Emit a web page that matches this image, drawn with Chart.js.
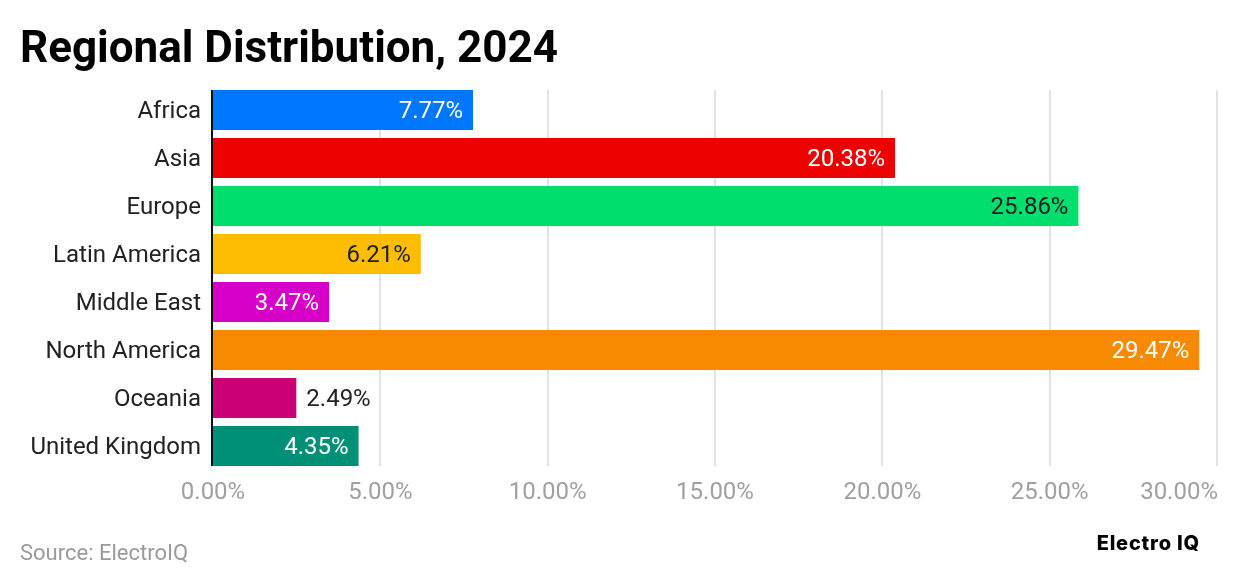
<!DOCTYPE html>
<html>
<head>
<meta charset="utf-8">
<title>Regional Distribution, 2024</title>
<script src="https://cdn.jsdelivr.net/npm/chart.js@4.4.1/dist/chart.umd.min.js"></script>
<style>
  html, body { margin: 0; padding: 0; background: #fff; }
  #wrap { width: 1240px; height: 588px; }
</style>
</head>
<body>
<div id="wrap"><canvas id="regionChart" width="1240" height="588"></canvas></div>
<script>
// chart data
const regions = ["Africa", "Asia", "Europe", "Latin America", "Middle East", "North America", "Oceania", "United Kingdom"];
const shares = [7.77, 20.38, 25.86, 6.21, 3.47, 29.47, 2.49, 4.35];
const barColors = ["#0077ff", "#ee0000", "#00df6e", "#ffbd00", "#d600c8", "#f78a00", "#cc0077", "#009078"];
const labelColors = ["#ffffff", "#ffffff", "#222222", "#222222", "#ffffff", "#ffffff", "#222222", "#ffffff"];
const xMax = 30;
const xStep = 5;

const FONT = "Roboto, 'Noto Sans', sans-serif";

const fmt = (v) => v.toFixed(2) + "%";

// draws grid, axis line, tick labels, value labels, title and footer
const decorPlugin = {
  id: "decor",
  beforeDatasetsDraw(chart) {
    const ctx = chart.ctx;
    const x = chart.scales.x;
    const bars = chart.getDatasetMeta(0).data;
    const top = bars[0].y - bars[0].height / 2;
    const bottom = bars[bars.length - 1].y + bars[bars.length - 1].height / 2;
    ctx.save();
    ctx.strokeStyle = "#e3e3e3";
    ctx.lineWidth = 2;
    x.ticks.forEach((t) => {
      if (t.value === 0) return;
      const px = Math.round(x.getPixelForValue(t.value));
      ctx.beginPath();
      ctx.moveTo(px, top);
      ctx.lineTo(px, bottom);
      ctx.stroke();
    });
    ctx.restore();
  },
  afterDatasetsDraw(chart) {
    const ctx = chart.ctx;
    const x = chart.scales.x;
    const bars = chart.getDatasetMeta(0).data;
    const top = bars[0].y - bars[0].height / 2;
    const bottom = bars[bars.length - 1].y + bars[bars.length - 1].height / 2;
    ctx.save();

    // value labels
    ctx.font = "24px " + FONT;
    ctx.textBaseline = "middle";
    bars.forEach((bar, i) => {
      const text = fmt(shares[i]);
      const w = ctx.measureText(text).width;
      const barW = bar.x - bar.base;
      if (barW < w + 24) {
        ctx.textAlign = "left";
        ctx.fillStyle = "#222222";
        ctx.fillText(text, bar.x + 10, bar.y + 2);
      } else {
        ctx.textAlign = "right";
        ctx.fillStyle = labelColors[i];
        ctx.fillText(text, bar.x - 10, bar.y + 2);
      }
    });

    // axis line
    const x0 = x.getPixelForValue(0) - 1;
    ctx.strokeStyle = "#111111";
    ctx.lineWidth = 2;
    ctx.beginPath();
    ctx.moveTo(x0, top);
    ctx.lineTo(x0, bottom);
    ctx.stroke();

    // x tick labels
    ctx.font = "24px " + FONT;
    ctx.fillStyle = "#a0a0a0";
    const ty = chart.chartArea.bottom + 23;
    x.ticks.forEach((t, i) => {
      const px = x.getPixelForValue(t.value);
      const last = i === x.ticks.length - 1;
      ctx.textAlign = last ? "right" : "center";
      ctx.fillText(fmt(t.value), last ? px + 1 : px, ty);
    });
    ctx.restore();
  },
  afterDraw(chart) {
    const ctx = chart.ctx;
    ctx.save();
    ctx.fillStyle = "#000000";
    ctx.font = "bold 44px " + FONT;
    ctx.textAlign = "left";
    ctx.textBaseline = "alphabetic";
    ctx.fillText("Regional Distribution, 2024", 20, 62);

    ctx.font = "22px " + FONT;
    ctx.fillStyle = "#9a9a9a";
    ctx.textBaseline = "middle";
    ctx.fillText("Source: ElectroIQ", 20, 554);

    ctx.font = "800 20px Inter, " + FONT;
    ctx.letterSpacing = "0.8px";
    ctx.fillStyle = "#000000";
    ctx.textAlign = "right";
    ctx.fillText("Electro IQ", 1200, 544);
    ctx.restore();
  },
};

function createBarChart() {
  const chartData = {
    labels: regions,
    datasets: [
      {
        data: shares,
        backgroundColor: barColors,
        borderWidth: 0,
        categoryPercentage: 1,
        barPercentage: 40 / 48,
      },
    ],
  };

  const chartOptions = {
    indexAxis: "y",
    responsive: false,
    animation: false,
    layout: { padding: { left: 0, top: 86, right: 23, bottom: 78 } },
    scales: {
      x: {
        min: 0,
        max: xMax,
        ticks: { stepSize: xStep, display: false },
        grid: { display: false, drawTicks: false },
        border: { display: false },
        afterFit: (s) => { s.height = 40; },
      },
      y: {
        ticks: { color: "#222222", font: { family: FONT, size: 24 }, padding: 12, labelOffset: 2 },
        grid: { display: false, drawTicks: false },
        border: { display: false },
        afterFit: (s) => { s.width = 213; },
      },
    },
    plugins: {
      legend: { display: false },
      tooltip: { enabled: false },
    },
  };

  const ctx = document.getElementById("regionChart").getContext("2d");
  new Chart(ctx, {
    type: "bar",
    data: chartData,
    options: chartOptions,
    plugins: [decorPlugin],
  });
}

createBarChart();
</script>
</body>
</html>
